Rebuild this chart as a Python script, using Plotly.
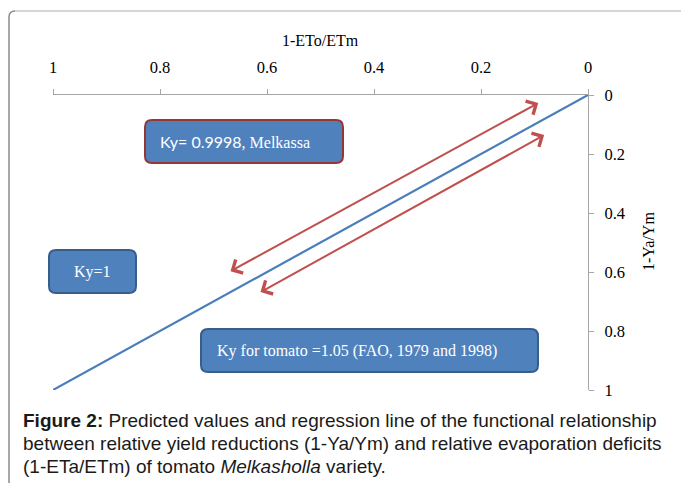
import plotly.graph_objects as go

# ---- data -------------------------------------------------------------
# regression line of relative yield reduction vs relative ET deficit
et_deficit = [0.0, 1.0]          # 1-ETa/ETm
yield_reduction = [0.0, 1.0]     # 1-Ya/Ym

tick_values = [0, 0.2, 0.4, 0.6, 0.8, 1]
tick_labels = ["0", "0.2", "0.4", "0.6", "0.8", "1"]

# double-headed arrows either side of the line: (x_head, y_head, x_tail, y_tail)
arrow_upper = [0.093, 0.027, 0.671, 0.600]
arrow_lower = [0.082, 0.136, 0.615, 0.671]

box_texts = [
    "<span style=\"font-family:Lato\">Ky= 0.9998</span>, Melkassa",
    "Ky=1",
    "Ky for tomato =1.05 (FAO, 1979 and 1998)",
]

caption_lines = [
    "<b>Figure 2:</b> Predicted values and regression line of the functional relationship",
    "between relative yield reductions (1-Ya/Ym) and relative evaporation deficits",
    "(1-ETa/ETm) of tomato <i>Melkasholla</i> variety.",
]

# ---- geometry helpers -------------------------------------------------
W, H = 681, 483
L, R, T, B = 53, 588, 95, 390


def pxx(px):
    return (px - L) / (R - L)


def pxy(py):
    return (B - py) / (B - T)


def rounded_rect(x0, y0, x1, y1, r):
    pts = [
        ("M", [(x0 + r, y0)]),
        ("L", [(x1 - r, y0)]),
        ("Q", [(x1, y0), (x1, y0 + r)]),
        ("L", [(x1, y1 - r)]),
        ("Q", [(x1, y1), (x1 - r, y1)]),
        ("L", [(x0 + r, y1)]),
        ("Q", [(x0, y1), (x0, y1 - r)]),
        ("L", [(x0, y0 + r)]),
        ("Q", [(x0, y0), (x0 + r, y0)]),
    ]
    parts = []
    for cmd, ps in pts:
        parts.append(cmd + " ".join(f"{pxx(a):.5f},{pxy(b):.5f}" for a, b in ps))
    return " ".join(parts) + " Z"


serif = "Liberation Serif, Times New Roman, serif"
sans = "Liberation Sans, Arial, sans-serif"
axis_grey = "#a6a6a6"

fig = go.Figure()
fig.add_trace(go.Scatter(
    x=et_deficit, y=yield_reduction, mode="lines",
    line=dict(color="#4a7ebb", width=2.2),
    hoverinfo="skip", showlegend=False,
))

axis_common = dict(
    range=[1, 0], tickvals=tick_values, ticktext=tick_labels,
    showline=True, linecolor=axis_grey, linewidth=1.2,
    ticks="outside", ticklen=5, tickcolor=axis_grey, tickwidth=1.2,
    showgrid=False, zeroline=False,
    tickfont=dict(family=serif, size=16.5, color="#000"),
)
fig.update_xaxes(side="top", ticklabelstandoff=9, **axis_common)
fig.update_yaxes(side="right", ticklabelstandoff=7, **axis_common)

annotations = []
shapes = []

# axis titles
annotations.append(dict(
    text="1-ETo/ETm", xref="paper", yref="paper", x=pxx(320), y=pxy(40),
    yanchor="middle", showarrow=False, font=dict(family=serif, size=16, color="#000"),
))
annotations.append(dict(
    text="1-Ya/Ym", xref="paper", yref="paper", x=pxx(648), y=pxy(242),
    xanchor="center", yanchor="middle",
    showarrow=False, textangle=-90, font=dict(family=serif, size=16, color="#000"),
))

# arrows
for xh, yh, xt, yt in (arrow_upper, arrow_lower):
    annotations.append(dict(
        x=xh, y=yh, ax=xt, ay=yt, xref="x", yref="y", axref="x", ayref="y",
        text="", showarrow=True, arrowside="end+start", arrowhead=4,
        arrowsize=1.5, arrowwidth=2, arrowcolor="#c0504d",
        standoff=0, startstandoff=0,
    ))

# text boxes
boxes = [
    (145, 120, 343, 163, "#953735", box_texts[0], "left", 158),
    (49, 250, 136, 293, "#385d8a", box_texts[1], "center", None),
    (201, 329, 538, 372, "#385d8a", box_texts[2], "left", 215),
]
for x0, y0, x1, y1, border, txt, align, tx in boxes:
    shapes.append(dict(
        type="path", xref="paper", yref="paper",
        path=rounded_rect(x0, y0, x1, y1, 7),
        fillcolor="#4f81bd", line=dict(color=border, width=2),
    ))
    if align == "left":
        annotations.append(dict(
            text=txt, xref="paper", yref="paper", x=pxx(tx), y=pxy((y0 + y1) / 2),
            xanchor="left", yanchor="middle", showarrow=False,
            font=dict(family=serif, size=16, color="white"),
        ))
    else:
        annotations.append(dict(
            text=txt, xref="paper", yref="paper", x=pxx((x0 + x1) / 2),
            y=pxy((y0 + y1) / 2), xanchor="center", yanchor="middle",
            showarrow=False, font=dict(family=serif, size=16, color="white"),
        ))

# page frame
shapes.append(dict(
    type="path", xref="paper", yref="paper",
    path=f"M{pxx(9)},{pxy(490)} L{pxx(9)},{pxy(17)} Q{pxx(9)},{pxy(11)} {pxx(15)},{pxy(11)}",
    line=dict(color="#8c8c8c", width=1.5),
))
shapes.append(dict(
    type="line", xref="paper", yref="paper",
    x0=pxx(15), y0=pxy(11), x1=pxx(690), y1=pxy(11),
    line=dict(color="#c8c8c8", width=1.5),
))

# caption
for i, line in enumerate(caption_lines):
    annotations.append(dict(
        text=line, xref="paper", yref="paper", x=pxx(21), y=pxy(421 + 22.5 * i),
        xanchor="left", yanchor="middle", showarrow=False,
        font=dict(family=sans, size=19, color="#1a1a1a"),
    ))

fig.update_layout(
    width=W, height=H,
    margin=dict(l=L, r=W - R, t=T, b=H - B),
    paper_bgcolor="white", plot_bgcolor="white",
    annotations=annotations, shapes=shapes,
    showlegend=False,
)

fig.write_html("out.html")
